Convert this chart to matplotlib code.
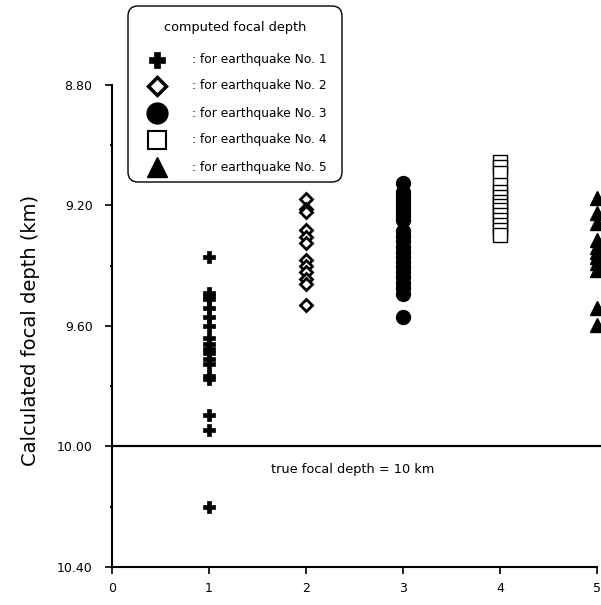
import matplotlib
matplotlib.use('Agg')
import matplotlib.pyplot as plt
from matplotlib.patches import FancyBboxPatch

plt.rcParams['font.family'] = ['DejaVu Sans']

# ---- data ----
earthquakes = [1, 2, 3, 4, 5]
depth_eq1 = [9.37, 9.49, 9.50, 9.51, 9.54, 9.57, 9.60, 9.64, 9.66, 9.675, 9.69,
             9.71, 9.725, 9.765, 9.775, 9.895, 9.945, 10.20]
depth_eq2 = [9.18, 9.21, 9.22, 9.28, 9.305, 9.325, 9.38, 9.40, 9.42, 9.445, 9.46, 9.53]
depth_eq3 = [9.126, 9.155, 9.169, 9.182, 9.195, 9.209, 9.222, 9.235, 9.249, 9.285,
             9.302, 9.318, 9.338, 9.355, 9.371, 9.388, 9.405, 9.421, 9.438, 9.458,
             9.474, 9.494, 9.571]
depth_eq4 = [9.056, 9.072, 9.092, 9.132, 9.155, 9.172, 9.189, 9.202, 9.215, 9.232,
             9.249, 9.265, 9.282, 9.298]
depth_eq5 = [9.175, 9.225, 9.258, 9.315, 9.338, 9.355, 9.371, 9.391, 9.415, 9.541, 9.597]
true_depth = 10.0
x_ticks = [0, 1, 2, 3, 4, 5]
y_major = [8.80, 9.20, 9.60, 10.00, 10.40]
y_minor = [9.00, 9.40, 9.80, 10.20]
legend_title = "computed focal depth"
legend_labels = [": for earthquake No. 1", ": for earthquake No. 2", ": for earthquake No. 3",
                 ": for earthquake No. 4", ": for earthquake No. 5"]

W, H = 601, 605
fig = plt.figure(figsize=(W / 100, H / 100), dpi=100)
ax = fig.add_axes([112 / W, 1 - 567 / H, (597 - 112) / W, (567 - 85) / H])
ax.set_xlim(0, 5)
ax.set_ylim(10.40, 8.80)

styles = [
    dict(marker='P', ms=9, mfc='black', mec='black', mew=0.5),
    dict(marker='D', ms=6, mfc='white', mec='black', mew=2),
    dict(marker='o', ms=10, mfc='black', mec='black'),
    dict(marker='s', ms=10, mfc='white', mec='black', mew=1),
    dict(marker='^', ms=10, mfc='black', mec='black'),
]
series = [depth_eq1, depth_eq2, depth_eq3, depth_eq4, depth_eq5]
for xv, ys, st in zip(earthquakes, series, styles):
    ax.plot([xv] * len(ys), ys, ls='none', clip_on=False, zorder=3, **st)

ax.axhline(true_depth, xmin=0, xmax=1.006, color='black', lw=1.6, clip_on=False)
ax.text(2.48, 10.077, "true focal depth = 10 km", ha='center', va='center', fontsize=9.3)

for s in ['top', 'right']:
    ax.spines[s].set_visible(False)
for s in ['left', 'bottom']:
    ax.spines[s].set_linewidth(1.5)

ax.set_xticks(x_ticks)
ax.set_xticklabels([str(v) for v in x_ticks])
ax.set_yticks(y_major)
ax.set_yticklabels([f"{v:.2f}" for v in y_major])
ax.set_yticks(y_minor, minor=True)
ax.tick_params(axis='x', direction='out', length=5, width=1.2, pad=5.5, labelsize=9)
ax.tick_params(axis='y', which='major', direction='out', length=5, width=1.2, pad=9, labelsize=9)
ax.tick_params(axis='y', which='minor', direction='out', length=1.5, width=1.5)

ax.set_ylabel("Calculated focal depth (km)", fontsize=14)
ax.yaxis.set_label_coords(-0.148, 0.49)

# ---- legend (manual) ----
ov = fig.add_axes([0, 0, 1, 1], zorder=5)
ov.set_xlim(0, W)
ov.set_ylim(H, 0)
ov.axis('off')
box = FancyBboxPatch((128, 6), 214, 176, boxstyle='round,pad=0,rounding_size=10',
                     fc='white', ec='black', lw=1)
ov.add_patch(box)
ov.text(235, 28, legend_title, ha='center', va='center', fontsize=9.3)
leg_styles = [
    dict(marker='P', ms=12, mfc='black', mec='black', mew=0.5),
    dict(marker='D', ms=9, mfc='white', mec='black', mew=2.5),
    dict(marker='o', ms=15, mfc='black', mec='black'),
    dict(marker='s', ms=13, mfc='white', mec='black', mew=1.5),
    dict(marker='^', ms=14, mfc='black', mec='black'),
]
rows = [60, 86, 113, 140, 167]
for yr, lab, st in zip(rows, legend_labels, leg_styles):
    ov.plot([157], [yr], ls='none', **st)
    ov.text(192, yr, lab, ha='left', va='center', fontsize=8.8)

fig.savefig('out.png', dpi=100)
